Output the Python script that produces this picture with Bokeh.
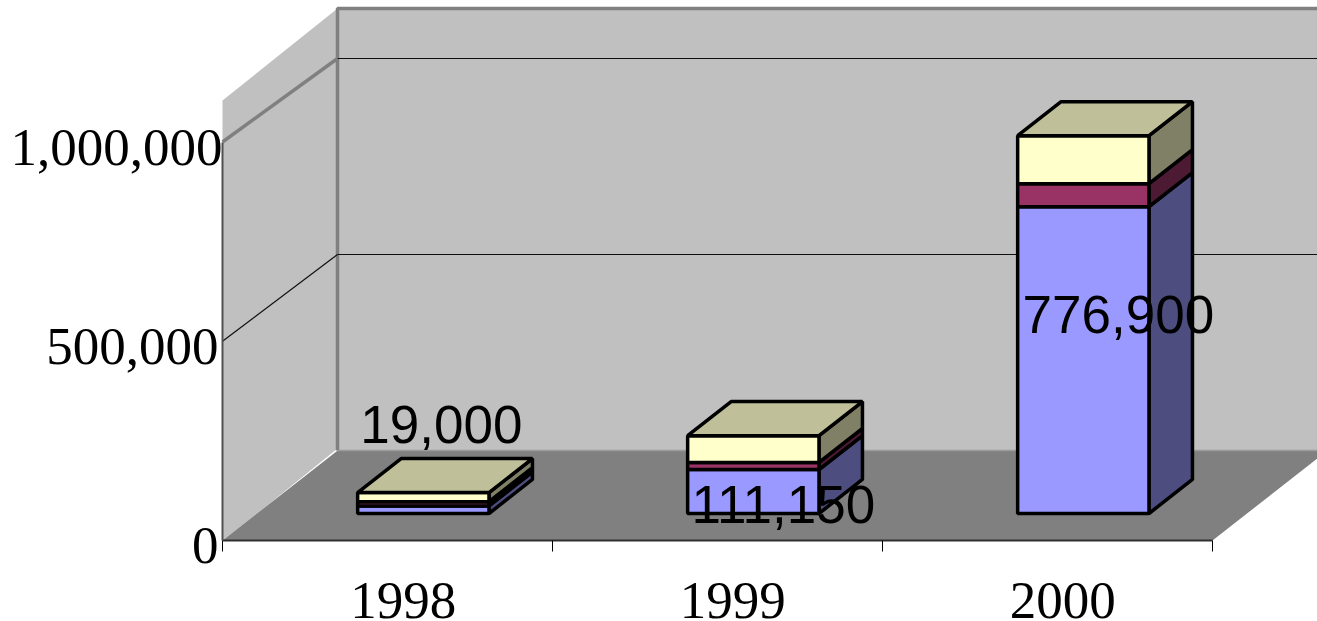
from bokeh.core.properties import value
from bokeh.embed import file_html
from bokeh.models import ColumnDataSource, FixedTicker, LinearAxis, NumeralTickFormatter, Range1d
from bokeh.plotting import figure
from bokeh.resources import INLINE

# Chart values
years = ["1998", "1999", "2000"]
first_segment = [19000, 111150, 776900]
second_segment = [11000, 18000, 58000]
third_segment = [23000, 68000, 121500]
value_ticks = [0, 500000, 1000000]

# Face colours per segment: front, side
front_colors = ["#9999FF", "#993366", "#FFFFCC"]
side_colors = ["#4D4D80", "#4D1A33", "#808066"]
TOP_COLOR = "#BFBF99"

# Oblique projection: u runs along the categories, v is the value, d is the
# depth from the front edge of the floor (0) to the back wall (1).
PX_PER_UNIT = 330.0
PX_PER_VALUE = 398.5e-6
DEPTH_DX = 115.0
DEPTH_DY = 90.0
WALL_SHRINK = 0.0163


def project(u, v, d, shrink_at=None):
    at = d if shrink_at is None else shrink_at
    x = u + d * DEPTH_DX / PX_PER_UNIT
    y = v * (1 - WALL_SHRINK * at) + d * DEPTH_DY / PX_PER_VALUE
    return x, y


def poly(points, shrink_at=None):
    pts = [project(u, v, d, shrink_at) for u, v, d in points]
    return [a for a, _ in pts], [b for _, b in pts]


# The frame fills the canvas; the axes sit inside it at the floor's front corner.
LEFT_OF_ZERO, RIGHT_OF_ZERO = 222, 1095
ABOVE_ZERO, BELOW_ZERO = 540, 81
p = figure(
    width=1317, height=621, output_backend="svg", toolbar_location=None,
    x_range=(-LEFT_OF_ZERO / PX_PER_UNIT, RIGHT_OF_ZERO / PX_PER_UNIT),
    y_range=(-BELOW_ZERO / PX_PER_VALUE, ABOVE_ZERO / PX_PER_VALUE),
    min_border_left=0, min_border_right=0, min_border_top=0, min_border_bottom=0,
    background_fill_color="white", border_fill_color="white",
)
p.outline_line_color = None
p.grid.visible = False

WALL = "#C0C0C0"
EDGE = "#808080"
TOP_FRONT, TOP_BACK = 1104000, 1127500
U_FAR = 3.5

# Left and back walls, floor
wx, wy = poly([(0, 0, 0), (0, 0, 1), (0, TOP_BACK, 1), (0, TOP_FRONT, 0)])
p.patch(wx, wy, fill_color=WALL, line_color=None)
bx, by = poly([(0, 0, 1), (U_FAR, 0, 1), (U_FAR, TOP_BACK, 1), (0, TOP_BACK, 1)])
p.patch(bx, by, fill_color=WALL, line_color=None)
fx, fy = poly([(0, 0, 0), (3, 0, 0), (3, 0, 1), (U_FAR, 0, 1), (0, 0, 1)])
p.patch(fx, fy, fill_color=EDGE, line_color=None)

# Highlight along the foot of the left wall
hx, hy = poly([(0, 0, 1), (0, 5000, 1), (0, 0, 0.37)])
p.patch(hx, hy, fill_color="white", line_color=None)

# Wall frame edges
ex, ey = poly([(U_FAR, TOP_BACK, 1), (0, TOP_BACK, 1), (0, 0, 1)])
p.line(ex, ey, line_color=EDGE, line_width=3.5)
ex, ey = poly([(0, 0, 1), (U_FAR, 0, 1)])
p.line(ex, ey, line_color="#9A9A9A", line_width=1.5)

# Gridlines on both walls; the top one on the left wall is a heavy grey rule
for tick in value_ticks[1:]:
    gx, gy = poly([(0, tick, 1), (U_FAR, tick, 1)])
    p.line(gx, gy, line_color="#101010", line_width=1.2)
    gx, gy = poly([(0, tick, 0), (0, tick, 1)])
    if tick == value_ticks[-1]:
        p.line(gx, gy, line_color=EDGE, line_width=3.5)
    else:
        p.line(gx, gy, line_color="#101010", line_width=1.2)

# Stacked boxes
BAR_FRONT, BAR_BACK = 0.30, 0.678
BAR_LEFT, BAR_RIGHT = 0.305, 0.703
BAR_SHRINK_AT = 0.54
STROKE = 3.5
segments = [first_segment, second_segment, third_segment]
for i in range(len(years)):
    u0, u1 = i + BAR_LEFT, i + BAR_RIGHT
    base = 0
    for k, seg in enumerate(segments):
        top = base + seg[i]
        sx, sy = poly([(u1, base, BAR_FRONT), (u1, base, BAR_BACK), (u1, top, BAR_BACK), (u1, top, BAR_FRONT)], BAR_SHRINK_AT)
        p.patch(sx, sy, fill_color=side_colors[k], line_color="black", line_width=STROKE)
        cx, cy = poly([(u0, base, BAR_FRONT), (u1, base, BAR_FRONT), (u1, top, BAR_FRONT), (u0, top, BAR_FRONT)], BAR_SHRINK_AT)
        p.patch(cx, cy, fill_color=front_colors[k], line_color="black", line_width=STROKE)
        base = top
    tx, ty = poly([(u0, base, BAR_FRONT), (u1, base, BAR_FRONT), (u1, base, BAR_BACK), (u0, base, BAR_BACK)], BAR_SHRINK_AT)
    p.patch(tx, ty, fill_color=TOP_COLOR, line_color="black", line_width=STROKE)

# Value labels for the first segment, nudged off their bars
label_dx = [18, 30, 35]
label_dy = [-81, 35, 108]
anchors = [project(i + (BAR_LEFT + BAR_RIGHT) / 2, first_segment[i], BAR_FRONT, BAR_SHRINK_AT) for i in range(3)]
labels = ColumnDataSource(dict(
    x=[a[0] for a in anchors], y=[a[1] for a in anchors],
    text=[f"{v:,}" for v in first_segment], dx=label_dx, dy=label_dy,
))
p.text(
    x="x", y="y", text="text", source=labels, x_offset="dx", y_offset="dy",
    text_font=value("Liberation Sans"), text_font_size=value("53px"),
    text_align="center", text_baseline="alphabetic", text_color="black",
)

# Category axis along the floor's front edge: labels sit at their own positions,
# minor ticks mark the category edges
xa = p.xaxis[0]
label_u = [0.548, 1.546, 2.546]
xa.fixed_location = 0
xa.ticker = FixedTicker(ticks=label_u, minor_ticks=[0, 1, 2, 3])
xa.major_label_overrides = {u: y for u, y in zip(label_u, years)}
xa.major_tick_line_color = None
xa.minor_tick_in = 0
xa.minor_tick_out = 11
xa.minor_tick_line_color = "black"
xa.minor_tick_line_width = 1
xa.axis_line_color = "#303030"
xa.axis_line_width = 2
xa.bounds = (0, 3)
xa.major_label_text_font = "Liberation Serif"
xa.major_label_text_font_size = "53px"
xa.major_label_text_color = "black"
xa.major_label_standoff = 31

# Value axis line
ya = p.yaxis[0]
ya.fixed_location = 0
ya.ticker = FixedTicker(ticks=[])
ya.major_tick_line_color = None
ya.minor_tick_line_color = None
ya.axis_line_color = "#505050"
ya.axis_line_width = 2
ya.bounds = (0, 1000000)

# Value labels on a range offset by a few pixels, so that they hang below their gridlines
LABEL_DROP = 5
p.extra_y_ranges["labels"] = Range1d(
    (-BELOW_ZERO + LABEL_DROP) / PX_PER_VALUE, (ABOVE_ZERO + LABEL_DROP) / PX_PER_VALUE
)
# The longest label reaches the wall; the shorter ones stop a little before it
for ticks, standoff in ((value_ticks[:2], -2), (value_ticks[2:], -6)):
    p.add_layout(LinearAxis(
        y_range_name="labels", fixed_location=0,
        ticker=FixedTicker(ticks=ticks),
        formatter=NumeralTickFormatter(format="0,0"),
        axis_line_color=None, major_tick_line_color=None, minor_tick_line_color=None,
        major_label_standoff=standoff,
        major_label_text_font="Liberation Serif", major_label_text_font_size="53px",
        major_label_text_color="black",
    ), "left")

open("out.html", "w").write(file_html(p, INLINE))
